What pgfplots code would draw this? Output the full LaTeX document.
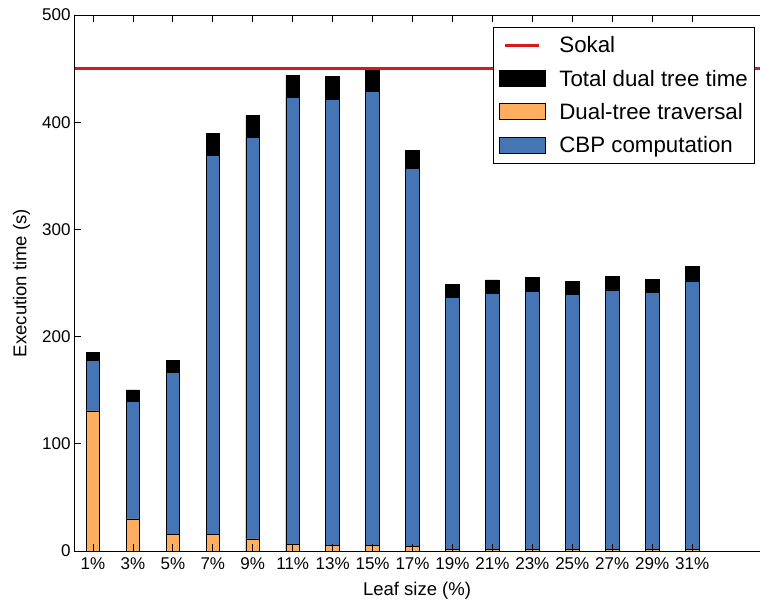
\documentclass[border=0pt]{standalone}
\usepackage{pgfplots}
\usepackage{pgfplotstable}
\pgfplotsset{compat=1.18}
\usepackage{fontspec}
\setmainfont{Liberation Sans}
\definecolor{cbpblue}{HTML}{4575B4}
\definecolor{travorange}{HTML}{FDAE61}
\definecolor{sokalred}{HTML}{D7191C}

\pgfplotsset{
  barlegend/.style={legend image code/.code={\draw[##1] (0pt,-8pt) rectangle (46pt,8pt);}},
  linelegend/.style={legend image code/.code={\draw[##1] (6pt,0pt) -- (40pt,0pt);}},
}

\pgfplotstableread{
idx total cbp trav
0  185.0 177.5 130.6
1  150.2 139.3 29.9
2  177.5 166.3 15.5
3  389.6 368.8 15.5
4  406.0 385.6 11.2
5  443.7 422.9 6.5
6  442.8 421.0 5.3
7  448.5 429.1 5.3
8  373.8 357.0 4.0
9  248.8 236.5 1.5
10 252.8 240.4 1.5
11 255.0 242.5 1.5
12 251.6 239.4 1.5
13 255.9 243.5 1.5
14 253.7 241.3 1.5
15 265.2 251.9 1.5
}\datatable

\pgfplotstableread{
x y
-0.476 450
16.7 450
}\sokaltable

\begin{document}
\begin{tikzpicture}
\begin{axis}[
  scale only axis, width=686pt, height=536pt,
  xmin=-0.476, xmax=16.7, ymin=0, ymax=500,
  axis x line*=box, axis y line*=left,
  tick align=inside,
  xtick={0,...,15},
  xticklabels={1\%,3\%,5\%,7\%,9\%,11\%,13\%,15\%,17\%,19\%,21\%,23\%,25\%,27\%,29\%,31\%},
  ytick={0,100,...,500},
  major tick length=7pt,
  tick style={black, line width=0.8pt},
  axis line style={black, line width=0.8pt},
  ticklabel style={font=\fontsize{17}{20}\selectfont},
  xticklabel style={yshift=-3pt},
  /pgf/number format/assume math mode=true,
  xlabel={Leaf size (\%)}, ylabel={Execution time (s)},
  label style={font=\fontsize{18.5}{22}\selectfont},
  xlabel style={yshift=-6pt},
  ylabel style={yshift=5pt},
  axis on top,
  legend cell align=left,
  legend style={at={(0.993,0.978)}, anchor=north east,
    font=\fontsize{22.3}{26}\selectfont, draw=black, line width=0.8pt,
    inner xsep=5pt, inner ysep=7.5pt, row sep=11.5pt,
    /tikz/every odd column/.append style={column sep=12pt}},
]
\addlegendimage{linelegend, sokalred, line width=3pt}
\addlegendentry{Sokal}
\addlegendimage{barlegend, fill=black, draw=black, line width=0.8pt}
\addlegendentry{Total dual tree time}
\addlegendimage{barlegend, fill=travorange, draw=black, line width=0.8pt}
\addlegendentry{Dual-tree traversal}
\addlegendimage{barlegend, fill=cbpblue, draw=black, line width=0.8pt}
\addlegendentry{CBP computation}

\addplot[ybar, bar width=0.34, bar shift=0pt, fill=black, draw=black, line width=0.8pt, forget plot] table[x=idx, y=total] {\datatable};
\addplot[ybar, bar width=0.34, bar shift=0pt, fill=cbpblue, draw=black, line width=0.8pt, forget plot] table[x=idx, y=cbp] {\datatable};
\addplot[ybar, bar width=0.34, bar shift=0pt, fill=travorange, draw=black, line width=0.8pt, forget plot] table[x=idx, y=trav] {\datatable};
\addplot[sokalred, line width=3pt, forget plot] table[x=x, y=y] {\sokaltable};
\end{axis}
\pgfresetboundingbox
\path[use as bounding box] ([xshift=-74pt,yshift=-53pt]current axis.south west) rectangle ([yshift=15pt]current axis.north east);
\end{tikzpicture}
\end{document}
